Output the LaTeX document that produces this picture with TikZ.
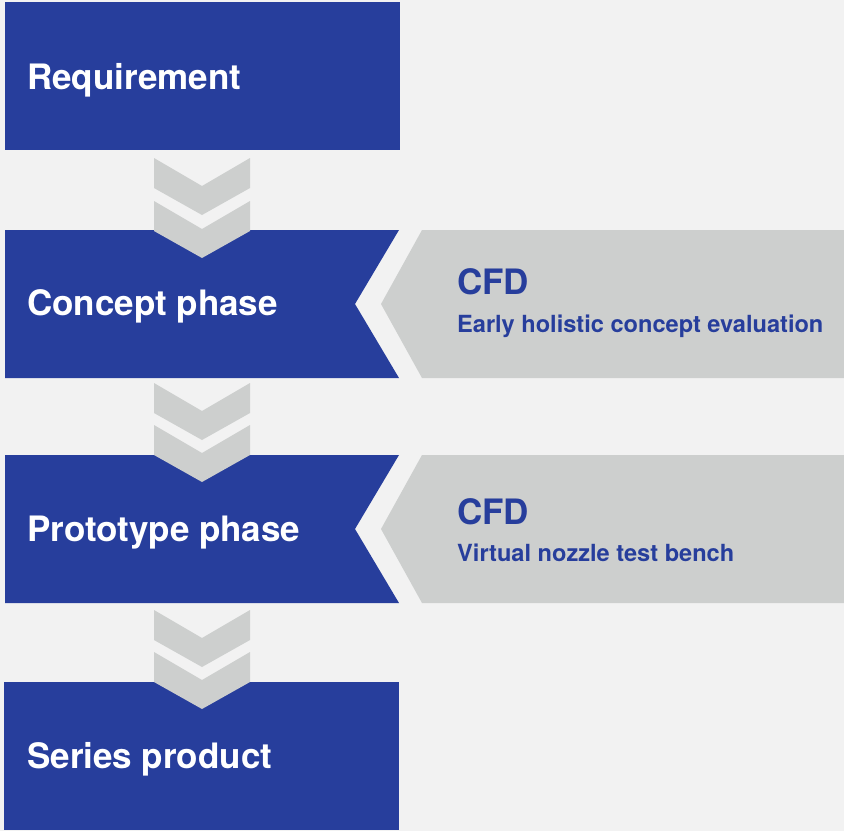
\documentclass[tikz,border=0pt]{standalone}
\usepackage{fontspec}
\setmainfont{TeX Gyre Heros}
\definecolor{bgc}{HTML}{F2F2F2}
\definecolor{bluec}{HTML}{273E9C}
\definecolor{grayc}{HTML}{CDCFCE}
\begin{document}
\begin{tikzpicture}[x=1pt,y=-1pt,
 phase/.style={anchor=base west,text=white,font=\fontsize{35}{40}\selectfont\bfseries,inner sep=0pt},
 cfd/.style={anchor=base west,text=bluec,font=\fontsize{35}{40}\selectfont\bfseries,inner sep=0pt},
 sub/.style={anchor=base west,text=bluec,font=\fontsize{23.6}{28}\selectfont\bfseries,inner sep=0pt}]
\fill[bgc] (0,0) rectangle (844,831);
\useasboundingbox (0,0) rectangle (844,831);
% phase boxes
\fill[bluec] (5,2) rectangle (400,150);
\fill[bluec] (5,230) -- (399,230) -- (355,304) -- (399,378) -- (5,378) -- cycle;
\fill[bluec] (5,455) -- (399,455) -- (355,529) -- (399,603) -- (5,603) -- cycle;
\fill[bluec] (4,682) rectangle (399,830);
% gray arrows
\fill[grayc] (422,230) -- (844,230) -- (844,378) -- (422,378) -- (381,304) -- cycle;
\fill[grayc] (422,455) -- (844,455) -- (844,603) -- (422,603) -- (381,529) -- cycle;
% chevrons
\foreach \t in {158,201,383,425,610,652}{
  \fill[grayc] (154,\t) -- (202,{\t+28}) -- (250,\t) -- (250,{\t+30}) -- (202,{\t+57}) -- (154,{\t+30}) -- cycle;
}
% texts
\node[phase] (req) at (27,89) {Requirement};
\node[phase] (con) at (27,315) {Concept phase};
\node[phase] (pro) at (27,541) {Prototype phase};
\node[phase] (ser) at (27,768) {Series product};
\node[cfd] (cfd1) at (457,294) {CFD};
\node[sub] (sub1) at (457,332) {Early holistic concept evaluation};
\node[cfd] (cfd2) at (457,524) {CFD};
\node[sub] (sub2) at (457,561) {Virtual nozzle test bench};
\end{tikzpicture}
\end{document}
